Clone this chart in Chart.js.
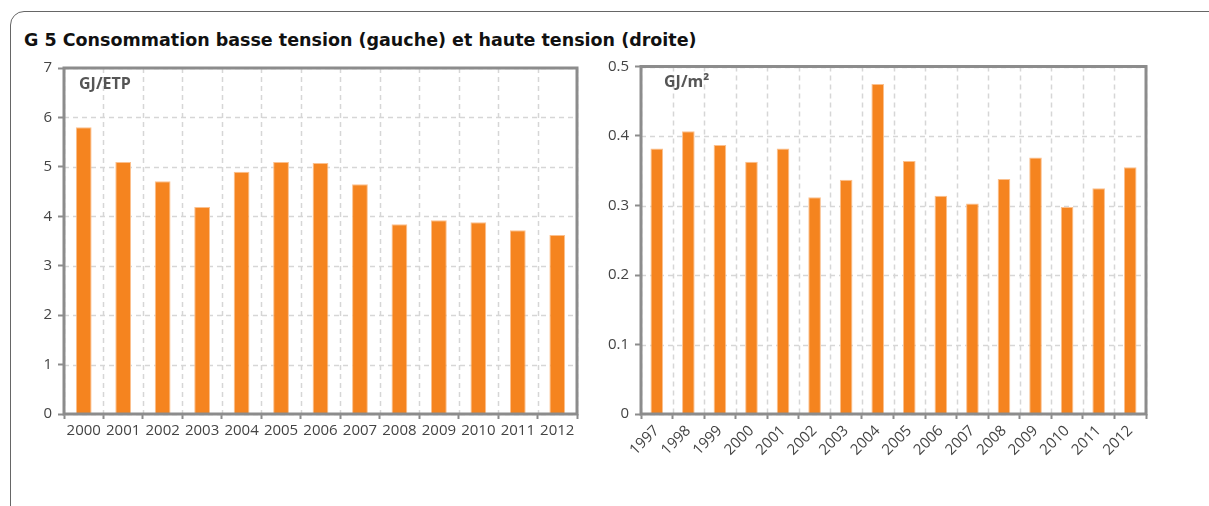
<!DOCTYPE html>
<html>
<head>
<meta charset="utf-8">
<script src="https://cdn.jsdelivr.net/npm/chart.js@4.4.1/dist/chart.umd.min.js"></script>
<style>
  body { margin: 0; background: #fff; width: 1209px; height: 506px; overflow: hidden; position: relative; }
  .frame {
    position: absolute; left: 10px; top: 11px; width: 1400px; height: 700px;
    border: 1.5px solid #666; border-top-left-radius: 14px;
  }
  .title {
    position: absolute; left: 24px; top: 30px;
    font: bold 17.5px "DejaVu Sans", sans-serif; color: #111; white-space: nowrap;
  }
  #left-wrap { position: absolute; left: 30px; top: 50px; width: 560px; height: 410px; }
  #right-wrap { position: absolute; left: 595px; top: 50px; width: 565px; height: 440px; }
</style>
</head>
<body>
<div class="frame"></div>
<div class="title">G 5 Consommation basse tension (gauche) et haute tension (droite)</div>
<div id="left-wrap"><canvas id="lowChart"></canvas></div>
<div id="right-wrap"><canvas id="highChart"></canvas></div>
<script>
// basse tension, GJ par ETP
const lowYears = ["2000", "2001", "2002", "2003", "2004", "2005", "2006", "2007", "2008", "2009", "2010", "2011", "2012"];
const lowValues = [5.80, 5.10, 4.71, 4.19, 4.90, 5.10, 5.08, 4.65, 3.84, 3.92, 3.88, 3.72, 3.62];
const lowTicks = [0, 1, 2, 3, 4, 5, 6, 7];

// haute tension, GJ par m²
const highYears = ["1997", "1998", "1999", "2000", "2001", "2002", "2003", "2004", "2005", "2006", "2007", "2008", "2009", "2010", "2011", "2012"];
const highValues = [0.382, 0.407, 0.387, 0.363, 0.382, 0.312, 0.337, 0.475, 0.364, 0.314, 0.303, 0.338, 0.369, 0.298, 0.325, 0.355];
const highTicks = [0, 0.1, 0.2, 0.3, 0.4, 0.5];

const orange = "#f5841f";
const orangeEdge = "#fbc08e";
const axisGray = "#8c8c8c";
const gridGray = "#d6d6d6";
const tickFont = { family: "'Open Sans', sans-serif", size: 15 };

// grille pointillée (lignes aux limites de catégories et aux graduations)
const dashedGrid = {
  id: "dashedGrid",
  beforeDatasetsDraw(chart) {
    const { ctx, chartArea: a, scales } = chart;
    ctx.save();
    ctx.strokeStyle = gridGray;
    ctx.lineWidth = 1.5;
    ctx.setLineDash([5, 4]);
    ctx.beginPath();
    scales.y.ticks.forEach((t) => {
      const y = Math.round(scales.y.getPixelForValue(t.value)) + 0.5;
      ctx.moveTo(a.left, y);
      ctx.lineTo(a.right, y);
    });
    for (let i = 0; i <= scales.x.ticks.length; i++) {
      const x = Math.round(scales.x.getPixelForValue(i - 0.5)) + 0.5;
      ctx.moveTo(x, a.top);
      ctx.lineTo(x, a.bottom);
    }
    ctx.stroke();
    ctx.restore();
  },
};

// cadre gris autour de la zone de tracé + unité en haut à gauche
const framePlugin = {
  id: "frame",
  afterDraw(chart, args, opts) {
    const { ctx, chartArea: a } = chart;
    ctx.save();
    ctx.strokeStyle = axisGray;
    ctx.lineWidth = 3;
    ctx.strokeRect(a.left, a.top, a.right - a.left, a.bottom - a.top);
    ctx.fillStyle = "#555";
    ctx.font = "bold 16px 'Open Sans', sans-serif";
    ctx.textBaseline = "middle";
    ctx.fillText(opts.unit, a.left + opts.dx, a.top + 16);
    ctx.restore();
  },
};

function makeChart(id, labels, values, ticks, unit, unitDx, yWidth, xHeight, rotate, pad) {
  const ctx = document.getElementById(id).getContext("2d");
  return new Chart(ctx, {
    type: "bar",
    data: {
      labels: labels,
      datasets: [
        {
          data: values,
          backgroundColor: orange,
          borderColor: orangeEdge,
          borderWidth: 1,
          barPercentage: 0.4,
          categoryPercentage: 1,
        },
      ],
    },
    options: {
      responsive: true,
      maintainAspectRatio: false,
      animation: false,
      layout: { padding: pad },
      plugins: {
        legend: { display: false },
        tooltip: { enabled: false },
        frame: { unit: unit, dx: unitDx },
      },
      scales: {
        x: {
          grid: {
            offset: true,
            drawOnChartArea: false,
            color: gridGray,
            tickColor: axisGray,
            tickWidth: 2,
            tickLength: 5,
          },
          border: { display: false },
          ticks: {
            color: "#444",
            font: tickFont,
            padding: 3,
            autoSkip: false,
            maxRotation: rotate,
            minRotation: rotate,
          },
          afterFit: (axis) => { axis.height = xHeight; },
        },
        y: {
          min: ticks[0],
          max: ticks[ticks.length - 1],
          afterBuildTicks: (axis) => { axis.ticks = ticks.map((v) => ({ value: v })); },
          grid: {
            drawOnChartArea: false,
            color: gridGray,
            tickColor: axisGray,
            tickWidth: 2,
            tickLength: 6,
          },
          border: { display: false },
          ticks: {
            color: "#444",
            font: tickFont,
            padding: 6,
          },
          afterFit: (axis) => { axis.width = yWidth; },
        },
      },
    },
    plugins: [dashedGrid, framePlugin],
  });
}

makeChart("lowChart", lowYears, lowValues, lowTicks, "GJ/ETP", 15, 34, 46, 0, { top: 18, right: 13 });
makeChart("highChart", highYears, highValues, highTicks, "GJ/m²", 23, 46, 76, 45, { top: 16.5, right: 14 });
</script>
</body>
</html>
